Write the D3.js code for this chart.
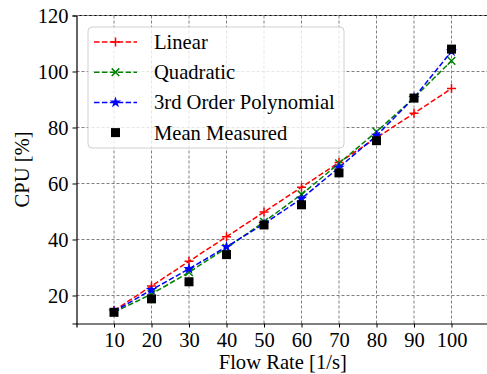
<!DOCTYPE html>
<html>
<head>
<meta charset="utf-8">
<script src="https://cdn.jsdelivr.net/npm/d3@7"></script>
<style>
  body { margin: 0; background: #fff; }
</style>
</head>
<body>
<svg id="chart" width="487" height="374"></svg>
<script>
const flowRates = [10, 20, 30, 40, 50, 60, 70, 80, 90, 100];
const linear = [14.6, 23.4, 32.2, 41.0, 49.8, 58.7, 67.5, 76.3, 85.1, 93.9];
const quadratic = [14.0, 20.5, 28.3, 37.0, 46.3, 56.1, 67.2, 78.5, 90.6, 103.8];
const cubic = [14.3, 22.0, 29.5, 37.4, 45.6, 54.6, 65.7, 77.1, 90.6, 107.2];
const measured = [14.0, 18.8, 24.9, 34.6, 45.2, 52.4, 63.8, 75.3, 90.5, 108.0];
const yTicks = [20, 40, 60, 80, 100, 120];

const FONT = "'Liberation Serif', 'Times New Roman', 'DejaVu Serif', serif";
const svg = d3.select('#chart');
const box = { left: 76.5, right: 489, top: 15.5, bottom: 323.5 };

const x = d3.scaleLinear().domain([0, 110]).range([box.left, box.right]);
const y = d3.scaleLinear().domain([10, 120]).range([box.bottom, box.top]);

// grid
const grid = svg.append('g');
grid.selectAll('.gx').data(flowRates).enter().append('line')
    .attr('x1', d => x(d)).attr('x2', d => x(d))
    .attr('y1', box.top).attr('y2', box.bottom);
grid.selectAll('.gy').data(yTicks).enter().append('line')
    .attr('x1', box.left).attr('x2', box.right)
    .attr('y1', d => y(d)).attr('y2', d => y(d));
grid.selectAll('line')
    .attr('stroke', '#808080')
    .attr('stroke-width', 1)
    .attr('stroke-dasharray', '3,2');

// axes
const xAxis = svg.append('g')
    .attr('transform', `translate(0,${box.bottom})`)
    .call(d3.axisBottom(x).tickValues(flowRates).tickSize(4).tickPadding(5));
const yAxis = svg.append('g')
    .attr('transform', `translate(${box.left},0)`)
    .call(d3.axisLeft(y).tickValues(yTicks).tickSize(4).tickPadding(4));
[xAxis, yAxis].forEach(a => {
    a.attr('font-family', null).attr('font-size', null);
    a.select('.domain').attr('stroke', '#000').attr('stroke-width', 1.2);
    a.selectAll('.tick line').attr('stroke', '#000').attr('stroke-width', 1);
    a.selectAll('text').attr('fill', '#000')
        .style('font-family', FONT).style('font-size', '20.5px');
});
svg.append('line').attr('x1', box.left).attr('x2', box.right).attr('y1', box.top).attr('y2', box.top)
    .attr('stroke', '#000').attr('stroke-width', 1.2);
svg.append('line').attr('x1', box.left).attr('x2', box.right).attr('y1', box.top).attr('y2', box.top)
    .attr('stroke', '#808080').attr('stroke-dasharray', '3,2');

svg.append('text')
    .attr('x', x(55)).attr('y', 369)
    .attr('text-anchor', 'middle')
    .style('font-family', FONT).style('font-size', '20.6px')
    .text('Flow Rate [1/s]');
svg.append('text')
    .attr('transform', `translate(29,${(box.top + box.bottom) / 2}) rotate(-90)`)
    .attr('text-anchor', 'middle')
    .style('font-family', FONT).style('font-size', '20.6px')
    .text('CPU [%]');

// markers
const plus = (g, s) => g.append('path').attr('d', `M${-s},0H${s}M0,${-s}V${s}`).attr('fill', 'none');
const cross = (g, s) => g.append('path').attr('d', `M${-s},${-s}L${s},${s}M${-s},${s}L${s},${-s}`).attr('fill', 'none');
const star = (g, a) => g.append('path').attr('d', d3.symbol(d3.symbolStar, a)());

const series = [
    { name: 'Linear', values: linear, color: 'red', marker: (g) => plus(g, 4.5).attr('stroke', 'red').attr('stroke-width', 1.5) },
    { name: 'Quadratic', values: quadratic, color: 'green', marker: (g) => cross(g, 3.8).attr('stroke', 'green').attr('stroke-width', 1.5) },
    { name: '3rd Order Polynomial', values: cubic, color: 'blue', marker: (g) => star(g, 40).attr('fill', 'blue') }
];

const line = d3.line().x(d => x(d[0])).y(d => y(d[1]));

series.forEach(s => {
    const pts = flowRates.map((f, i) => [f, s.values[i]]);
    svg.append('path')
        .datum(pts)
        .attr('d', line)
        .attr('fill', 'none')
        .attr('stroke', s.color)
        .attr('stroke-width', 1.5)
        .attr('stroke-dasharray', '5.5,2.4');
    pts.forEach(p => {
        const g = svg.append('g').attr('transform', `translate(${x(p[0])},${y(p[1])})`);
        s.marker(g);
    });
});

svg.selectAll('.meas').data(flowRates).enter().append('rect')
    .attr('x', d => x(d) - 4.5)
    .attr('y', (d, i) => y(measured[i]) - 4.5)
    .attr('width', 9).attr('height', 9)
    .attr('fill', '#000');

// legend
const lg = svg.append('g');
lg.append('rect')
    .attr('x', 88).attr('y', 27).attr('width', 256).attr('height', 121)
    .attr('rx', 4)
    .attr('fill', 'rgba(255,255,255,0.8)')
    .attr('stroke', '#d0d0d0');
const rows = [...series, { name: 'Mean Measured' }];
rows.forEach((s, i) => {
    const ry = 42 + i * 30.2;
    if (s.color) {
        lg.append('line').attr('x1', 94).attr('x2', 137).attr('y1', ry).attr('y2', ry)
            .attr('stroke', s.color).attr('stroke-width', 1.5).attr('stroke-dasharray', '5.5,2.4');
        s.marker(lg.append('g').attr('transform', `translate(115.5,${ry})`));
    } else {
        lg.append('rect').attr('x', 111).attr('y', ry - 4.5).attr('width', 9).attr('height', 9).attr('fill', '#000');
    }
    lg.append('text').attr('x', 154).attr('y', ry + 7)
        .style('font-family', FONT).style('font-size', '20.6px')
        .text(s.name);
});
</script>
</body>
</html>
